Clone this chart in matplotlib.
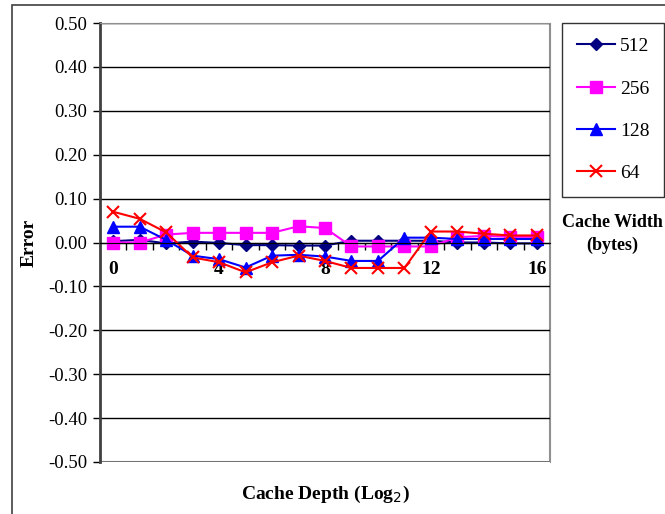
import matplotlib
matplotlib.use('Agg')
import matplotlib.pyplot as plt
from matplotlib.patches import Rectangle

plt.rcParams['font.family'] = ['Liberation Serif', 'DejaVu Serif']

# Cache depth (log2) categories
depth = list(range(17))
tick_labels = ['0', '4', '8', '12', '16']

# Error per cache width (bytes)
err_512 = [0.003, 0.006, -0.002, 0.002, -0.001, -0.006, -0.006, -0.007, -0.007, 0.004,
           0.004, 0.004, 0.004, 0.000, 0.000, -0.002, -0.002]
err_256 = [0.000, 0.000, 0.018, 0.022, 0.022, 0.022, 0.022, 0.037, 0.033, -0.009,
           -0.009, -0.009, -0.009, 0.012, 0.015, 0.013, 0.013]
err_128 = [0.036, 0.036, 0.006, -0.030, -0.038, -0.057, -0.030, -0.028, -0.032, -0.042,
           -0.042, 0.011, 0.011, 0.008, 0.008, 0.008, 0.008]
err_64 = [0.070, 0.054, 0.023, -0.034, -0.045, -0.068, -0.045, -0.030, -0.042, -0.058,
          -0.058, -0.058, 0.025, 0.025, 0.020, 0.016, 0.016]

fig = plt.figure(figsize=(6.65, 5.14), dpi=100)
ax = fig.add_axes([100 / 665, 52 / 514, 450 / 665, 439 / 514])

ax.plot(depth, err_512, color='#000080', marker='D', markersize=6, lw=1.5, label='512')
ax.plot(depth, err_256, color='#FF00FF', marker='s', markersize=8, lw=1.5, label='256')
ax.plot(depth, err_128, color='#0000FF', marker='^', markersize=8, lw=1.5, label='128')
ax.plot(depth, err_64, color='#FF0000', marker='x', markersize=9, mew=1.5, lw=1.5, label='64')

ax.set_xlim(-0.5, 16.5)
ax.set_ylim(-0.5, 0.5)
ax.set_yticks([i / 10 for i in range(-5, 6)])
ax.set_yticklabels(['%.2f' % (i / 10) for i in range(-5, 6)], fontsize=13.5)
ax.yaxis.grid(True, color='black', lw=1)
ax.set_axisbelow(True)
ax.tick_params(axis='y', direction='out', length=5, width=1, pad=4)

# x axis crosses at zero, Excel style ticks between categories
ax.spines['bottom'].set_position(('data', 0))
ax.spines['bottom'].set_color('black')
ax.set_xticks([i + 0.5 for i in range(16)])
ax.set_xticklabels([])
ax.tick_params(axis='x', which='major', direction='out', length=5, width=1)
ax.set_xticks([0, 4, 8, 12, 16], minor=True)
ax.set_xticklabels(tick_labels, minor=True, fontsize=14, fontweight='bold')
ax.tick_params(axis='x', which='minor', length=0, pad=13)

ax.spines['left'].set_color('#404040')
ax.spines['left'].set_linewidth(2)
ax.spines['top'].set_color('#909090')
ax.spines['right'].set_color('#909090')
ax.add_patch(Rectangle((0, 0), 1, 1, transform=ax.transAxes, fill=False,
                       edgecolor='#909090', lw=1.5, zorder=0.5))

ax.set_ylabel('Error', fontsize=14, fontweight='bold', labelpad=8)
ax.set_xlabel('Cache Depth (Log$_2$)', fontsize=14, fontweight='bold')
ax.xaxis.set_label_coords(0.5, -0.05)

leg = fig.legend(loc='upper left', bbox_to_anchor=(562 / 665, 1 - 23 / 514), fontsize=14,
                 frameon=True, fancybox=False, edgecolor='black', handlelength=2.0,
                 labelspacing=1.27, borderpad=0.75, handletextpad=0.25, borderaxespad=0)
leg.get_frame().set_linewidth(1)
fig.text(612 / 665, 1 - 234 / 514, 'Cache Width\n(bytes)', ha='center', va='center',
         fontsize=13, fontweight='bold', linespacing=1.5)

# outer chart border
fig.add_artist(Rectangle((12 / 665, -0.1), 1.2, 1.09, transform=fig.transFigure,
                         fill=False, edgecolor='#404040', lw=1.2))

fig.savefig('out.png', dpi=100)
